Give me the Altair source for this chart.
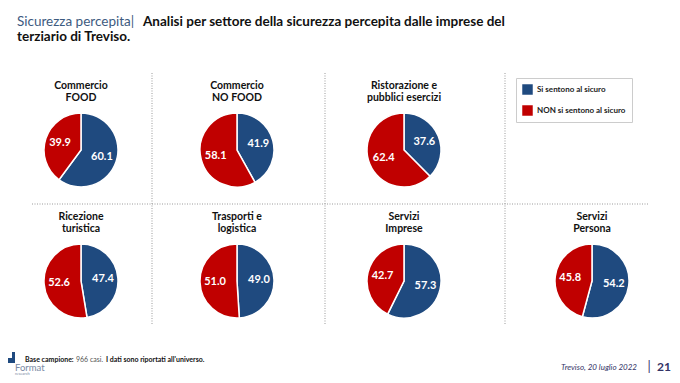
import altair as alt
import pandas as pd

# ---- data ----
settori = ["Commercio\nFOOD", "Commercio\nNO FOOD", "Ristorazione e\npubblici esercizi",
           "Ricezione\nturistica", "Trasporti e\nlogistica", "Servizi\nImprese", "Servizi\nPersona"]
colonna = [0, 1, 2, 0, 1, 2, 3]
riga = [0, 0, 0, 1, 1, 1, 1]
sicuro = [60.1, 41.9, 37.6, 47.4, 49.0, 57.3, 54.2]
non_sicuro = [39.9, 58.1, 62.4, 52.6, 51.0, 42.7, 45.8]
categorie = ["Si sentono al sicuro", "NON si sentono al sicuro"]
colori = ["#1F4A7F", "#C00000"]

rows = []
for s, c, r, a, b in zip(settori, colonna, riga, sicuro, non_sicuro):
    rows.append({"settore": s, "col": c, "row": r, "categoria": categorie[0], "ordine": 0, "value": a})
    rows.append({"settore": s, "col": c, "row": r, "categoria": categorie[1], "ordine": 1, "value": b})
df = pd.DataFrame(rows)
titoli = pd.DataFrame({"settore": settori, "col": colonna, "row": riga})

FONT = "Lato"
W, H = 664, 367

xs = alt.X("col:Q", scale=alt.Scale(domain=[0, 1, 2, 3], range=[73, 229, 396, 584]), axis=None)
ys = alt.Y("row:Q", scale=alt.Scale(domain=[0, 1], range=[142, 273]), axis=None)

base = alt.Chart(df).transform_window(
    end="sum(value)", groupby=["settore"], sort=[alt.SortField("ordine")]
).transform_calculate(
    start="datum.end - datum.value", mid="datum.end - datum.value / 2"
)

arcs = base.mark_arc(radius=37, stroke="white", strokeWidth=1.5).encode(
    x=xs, y=ys,
    theta=alt.Theta("start:Q", scale=alt.Scale(domain=[0, 100])),
    theta2="end:Q",
    color=alt.Color("categoria:N", scale=alt.Scale(domain=categorie, range=colori),
                    legend=alt.Legend(orient="none", legendX=508, legendY=70, title=None,
                                      symbolType="square", symbolSize=110, symbolStrokeWidth=0,
                                      labelFont=FONT, labelFontSize=8, labelFontWeight="bold",
                                      labelColor="#222222", rowPadding=10, padding=6,
                                      strokeColor="#cccccc", fillColor="white")),
)

labels = base.mark_text(radius=22, color="white", font=FONT, fontWeight="bold", fontSize=11).encode(
    x=xs, y=ys,
    theta=alt.Theta("mid:Q", stack=False),
    text=alt.Text("value:Q", format=".1f"),
)

titles = alt.Chart(titoli).mark_text(
    font=FONT, fontWeight="bold", fontSize=10.5, lineBreak="\n", lineHeight=12,
    baseline="top", dy=-69, color="#111111"
).encode(x=xs, y=ys, text="settore:N")

one = pd.DataFrame({"a": [0]})

def rule(**kw):
    return alt.Chart(one).mark_rule(color="#9a9a9a", strokeWidth=1, strokeDash=[1, 1.5]).encode(**kw)

rules = [
    rule(x=alt.value(144), y=alt.value(65), y2=alt.value(316)),
    rule(x=alt.value(317), y=alt.value(65), y2=alt.value(316)),
    rule(x=alt.value(497), y=alt.value(65), y2=alt.value(316)),
    rule(x=alt.value(24), x2=alt.value(640), y=alt.value(196)),
]

def txt(text, x, y, **kw):
    return alt.Chart(pd.DataFrame({"t": [text]})).mark_text(
        align=kw.pop("align", "left"), baseline="middle", font=kw.pop("font", FONT), **kw
    ).encode(x=alt.value(x), y=alt.value(y), text="t:N")

annot = [
    txt("Sicurezza percepita|", 9, 14, fontSize=13.5, color="#3d5a80"),
    txt("Analisi per settore della sicurezza percepita dalle imprese del", 135, 14,
        fontSize=13.5, fontWeight="bold", color="#111111"),
    txt("terziario di Treviso.", 9, 29, fontSize=13.5, fontWeight="bold", color="#111111"),
    txt("Base campione:", 17, 352, fontSize=7, fontWeight="bold", color="#111111"),
    txt("966 casi.", 68, 352, fontSize=7, color="#555555"),
    txt("I dati sono riportati all'universo.", 98, 352, fontSize=7, fontWeight="bold", color="#111111"),
    txt("Format", 7, 359.5, fontSize=9.5, color="#7a8aa5"),
    txt("research", 7, 366, fontSize=4, color="#7a8aa5"),
    txt("Treviso, 20 luglio 2022", 629, 360, align="right", fontSize=8, fontStyle="italic", color="#333366"),
    txt("|", 641, 359, align="center", fontSize=13, color="#333366"),
    txt("21", 649, 359, fontSize=12, fontWeight="bold", color="#333366"),
]

logo = [
    alt.Chart(one).mark_rect(color="#1F4A7F").encode(
        x=alt.value(0), x2=alt.value(7), y=alt.value(350), y2=alt.value(355)),
    alt.Chart(one).mark_rect(color="#1F4A7F").encode(
        x=alt.value(4), x2=alt.value(7), y=alt.value(344), y2=alt.value(350)),
]

chart = alt.layer(*rules, arcs, labels, titles, *annot, *logo).properties(
    width=W, height=H, padding=0, autosize=alt.AutoSizeParams(type="none"),
    background="white"
).configure_view(stroke=None)

chart.save("out.html", embed_options={"renderer": "svg", "actions": False})
